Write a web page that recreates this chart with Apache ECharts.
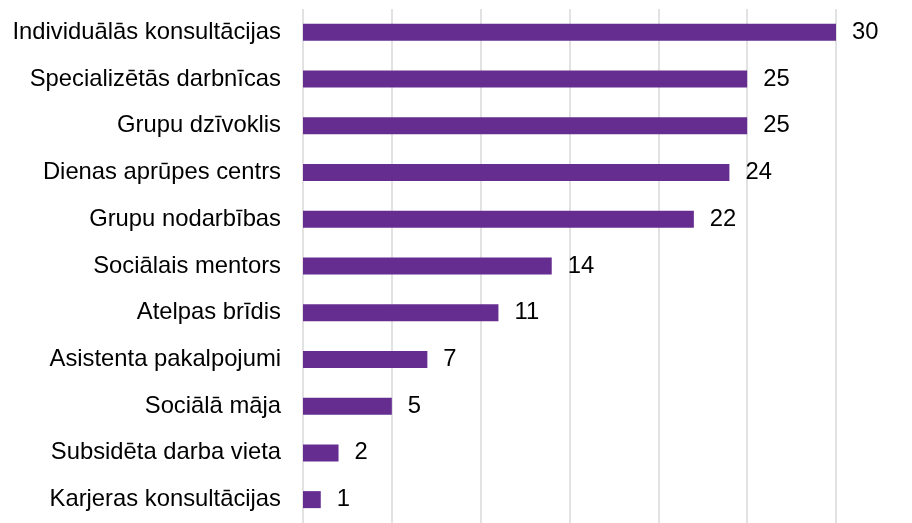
<!DOCTYPE html>
<html>
<head>
<meta charset="utf-8">
<script src="https://cdn.jsdelivr.net/npm/echarts@6/dist/echarts.min.js"></script>
<style>html,body{margin:0;padding:0;background:#fff}#c{width:912px;height:523px}</style>
</head>
<body>
<div id="c"></div>
<script>
var categories = ["Individuālās konsultācijas","Specializētās darbnīcas","Grupu dzīvoklis","Dienas aprūpes centrs","Grupu nodarbības","Sociālais mentors","Atelpas brīdis","Asistenta pakalpojumi","Sociālā māja","Subsidēta darba vieta","Karjeras konsultācijas"];
var values = [30,25,25,24,22,14,11,7,5,2,1];

var chart = echarts.init(document.getElementById('c'), null, {renderer:'canvas'});
chart.setOption({
  animation:false,
  grid:{left:303,right:76,top:9,height:518,containLabel:false},
  xAxis:{type:'value',min:0,max:30,interval:5,
    axisLabel:{show:false},axisLine:{show:false},axisTick:{show:false},
    splitLine:{lineStyle:{color:'#d9d9d9',width:1.5}}},
  yAxis:{type:'category',inverse:true,data:categories,
    axisLine:{show:false},axisTick:{show:false},
    axisLabel:{margin:22,color:'#000',fontFamily:'Liberation Sans, Arial, sans-serif',fontSize:23.8}},
  series:[{type:'bar',data:values,barWidth:17,
    itemStyle:{color:'#662d91'},
    label:{show:true,position:'right',distance:16,color:'#000',fontFamily:'Liberation Sans, Arial, sans-serif',fontSize:23.8}}]
});
</script>
</body>
</html>
